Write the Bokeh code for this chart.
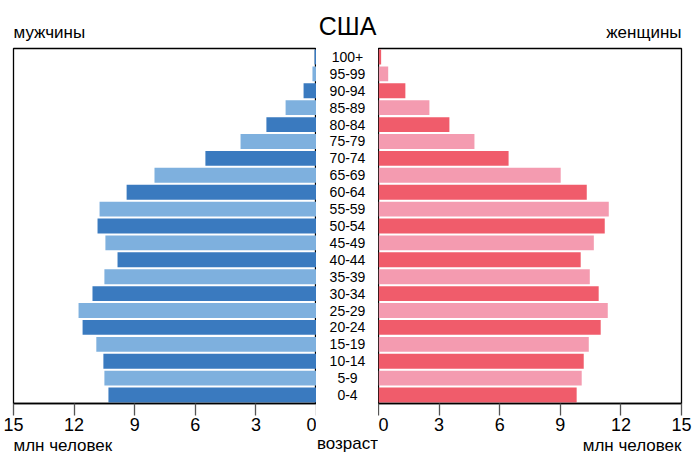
from bokeh.plotting import figure
from bokeh.layouts import row
from bokeh.models import Range1d, FactorRange, FixedTicker, Title, ColumnDataSource
from bokeh.core.properties import value
from bokeh.embed import file_html
from bokeh.resources import INLINE

ages = ["0-4", "5-9", "10-14", "15-19", "20-24", "25-29", "30-34", "35-39", "40-44",
        "45-49", "50-54", "55-59", "60-64", "65-69", "70-74", "75-79", "80-84",
        "85-89", "90-94", "95-99", "100+"]
male = [10.3, 10.5, 10.55, 10.9, 11.58, 11.78, 11.09, 10.5, 9.85, 10.45, 10.84,
        10.74, 9.4, 8.02, 5.5, 3.76, 2.48, 1.53, 0.64, 0.2, 0.1]
female = [9.81, 10.06, 10.16, 10.41, 11.0, 11.35, 10.9, 10.46, 10.01, 10.66, 11.2,
          11.4, 10.31, 9.02, 6.44, 4.75, 3.51, 2.52, 1.33, 0.48, 0.13]
ticks = [0, 3, 6, 9, 12, 15]

FONT = "Liberation Sans"
H = 457
TOP = 48
BOTTOM = 54

male_cols = ["#3a7abf" if i % 2 == 0 else "#7eb0de" for i in range(len(ages))]
female_cols = ["#f05c6b" if i % 2 == 0 else "#f49bb0" for i in range(len(ages))]

src = ColumnDataSource(dict(age=ages, male=male, female=female,
                            mc=male_cols, fc=female_cols))


def mk_title(text, align, size, standoff):
    return Title(text=text, align=align, text_font=FONT, text_font_size=size,
                 text_font_style="normal", text_color="black", standoff=standoff)


def style_axis(ax, tks, color="black", tick_color="#555555"):
    ax.ticker = FixedTicker(ticks=tks)
    ax.minor_tick_line_color = None
    ax.major_tick_out = 12
    ax.major_tick_in = 0
    ax.major_tick_line_color = tick_color
    ax.major_tick_line_width = 1.3
    ax.axis_line_color = color
    ax.axis_line_width = 1.3
    ax.major_label_text_font = FONT
    ax.major_label_text_font_size = "18px"
    ax.major_label_text_color = color
    ax.major_label_standoff = 2
    ax.axis_label_standoff = 0


def base_fig(width, xr, bl, br):
    p = figure(width=width, height=H, x_range=xr,
               y_range=FactorRange(factors=ages, range_padding=0),
               output_backend="svg", toolbar_location=None,
               y_axis_location=None, min_border_left=bl, min_border_right=br,
               min_border_top=TOP, min_border_bottom=BOTTOM)
    p.xgrid.visible = False
    p.ygrid.visible = False
    p.background_fill_color = "white"
    p.border_fill_color = "white"
    return p


left = base_fig(316, Range1d(15, 0), 13, 0)
left.outline_line_color = "black"
left.outline_line_width = 1.3
style_axis(left.xaxis[0], ticks)
left.hbar(y="age", left=0, right="male", height=0.88, fill_color="mc",
          line_color=None, source=src)
left.add_layout(mk_title("мужчины", "left", "17px", 14), "above")
left.add_layout(mk_title("млн человек", "left", "17px", 0), "below")

right = base_fig(314, Range1d(0, 15), 0, 11)
right.outline_line_color = "black"
right.outline_line_width = 1.3
style_axis(right.xaxis[0], ticks)
right.hbar(y="age", left=0, right="female", height=0.88, fill_color="fc",
           line_color=None, source=src)
right.add_layout(mk_title("женщины", "right", "17px", 14), "above")
right.add_layout(mk_title("млн человек", "right", "17px", 0), "below")

mid = base_fig(62, Range1d(0, 1), 0, 0)
mid.outline_line_color = None
style_axis(mid.xaxis[0], [0.5], color=None, tick_color=None)
max_ax = mid.xaxis[0]
max_ax.axis_label = "возраст"
max_ax.axis_label_standoff = 18
max_ax.axis_label_text_font = FONT
max_ax.axis_label_text_font_size = "17px"
max_ax.axis_label_text_font_style = "normal"
max_ax.axis_label_text_color = "black"
mid.text(x=0.5, y="age", text="age", source=src, text_align="center",
         text_baseline="middle", text_font=value(FONT), text_font_size="14px",
         text_color="black")
mid.add_layout(mk_title("США", "center", "25px", 17), "above")

layout = row(left, mid, right, spacing=0)
open("out.html", "w").write(file_html(layout, INLINE))
